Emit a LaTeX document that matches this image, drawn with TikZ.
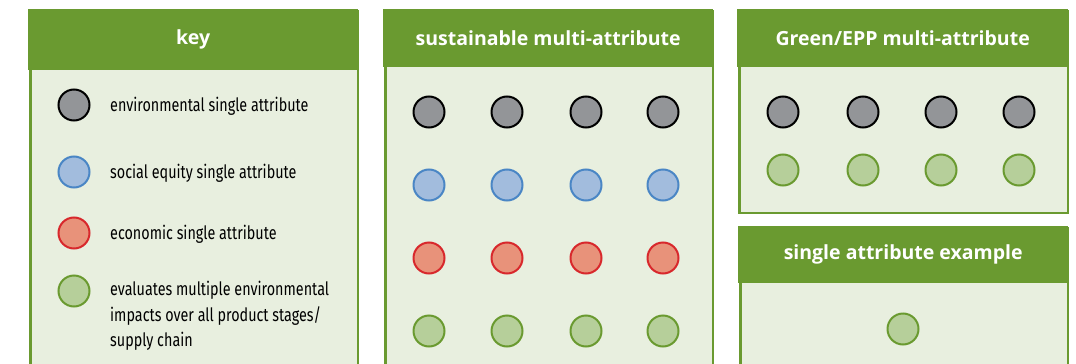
\documentclass[tikz,border=0pt]{standalone}
\usepackage{fontspec}
\setmainfont{Open Sans}
\newfontfamily\headfont{Open Sans Bold}
\newfontfamily\bodyfont[FakeStretch=0.78]{Fira Sans}
\definecolor{leaf}{HTML}{6A9A30}
\definecolor{pale}{HTML}{E8EFDF}
\definecolor{envfill}{HTML}{939598}
\definecolor{socfill}{HTML}{A2BCDD}
\definecolor{socline}{HTML}{4A86C5}
\definecolor{ecofill}{HTML}{E8927A}
\definecolor{ecoline}{HTML}{D8282C}
\definecolor{lcafill}{HTML}{B6CF9A}
\definecolor{lcaline}{HTML}{6A9A30}
\tikzset{
  panelbody/.style={draw=leaf, fill=pale, line width=2.5pt, rectangle, anchor=north west, inner sep=0pt},
  header/.style={fill=leaf, text=white, rectangle, anchor=north west, inner sep=0pt,
    font=\headfont\fontsize{19.5}{22}\selectfont},
  dot/.style={circle, minimum size=31pt, inner sep=0pt, line width=2pt},
  envdot/.style={dot, draw=black, fill=envfill},
  socdot/.style={dot, draw=socline, fill=socfill},
  ecodot/.style={dot, draw=ecoline, fill=ecofill},
  lcadot/.style={dot, draw=lcaline, fill=lcafill},
  keytext/.style={anchor=west, inner sep=0pt, align=left, text=black,
    font=\bodyfont\fontsize{18.4}{25.5}\selectfont}
}
\begin{document}
\begin{tikzpicture}[x=1pt, y=-1pt]
\clip (0,0) rectangle (1076,364);
\fill[white] (0,0) rectangle (1076,364);

% key panel
\node[panelbody, minimum width=327.5pt, minimum height=400pt] (keybox) at (29.25,10.25) {};
\node[header, minimum width=330pt, minimum height=61pt] (keyhead) at (28,9) {key};
\node[envdot] (k1) at (74,105) {};
\node[socdot] (k2) at (74,172) {};
\node[ecodot] (k3) at (74,233) {};
\node[lcadot] (k4) at (74,291) {};
\node[keytext] (t1) at (110,106) {environmental single attribute};
\node[keytext] (t2) at (110,173) {social equity single attribute};
\node[keytext] (t3) at (110,234) {economic single attribute};
\node[keytext, anchor=north west] (t4) at (110,281) {evaluates multiple environmental\\impacts over all product stages/\\supply chain};

% sustainable multi-attribute panel
\node[panelbody, minimum width=327.5pt, minimum height=400pt] (susbox) at (384.25,10.25) {};
\node[header, minimum width=330pt, minimum height=58pt] (sushead) at (383,9) {sustainable multi-attribute};
\foreach \c [count=\i] in {429,507,586,663} {
  \node[envdot] (se\i) at (\c,112) {};
  \node[socdot] (ss\i) at (\c,185) {};
  \node[ecodot] (sc\i) at (\c,258) {};
  \node[lcadot] (sl\i) at (\c,331) {};
}

% Green/EPP multi-attribute panel
\node[panelbody, minimum width=328.5pt, minimum height=201.5pt] (eppbox) at (738.25,10.25) {};
\node[header, minimum width=331pt, minimum height=58pt] (epphead) at (737,9) {Green/EPP multi-attribute};
\foreach \c [count=\i] in {783,863,941,1019} {
  \node[envdot] (ge\i) at (\c,112) {};
  \node[lcadot] (gl\i) at (\c,170) {};
}

% single attribute example panel
\node[panelbody, minimum width=327.5pt, minimum height=200pt] (onebox) at (739.25,227.25) {};
\node[header, minimum width=330pt, minimum height=57pt] (onehead) at (738,226) {single attribute example};
\node[lcadot] (o1) at (903,329) {};
\end{tikzpicture}
\end{document}
